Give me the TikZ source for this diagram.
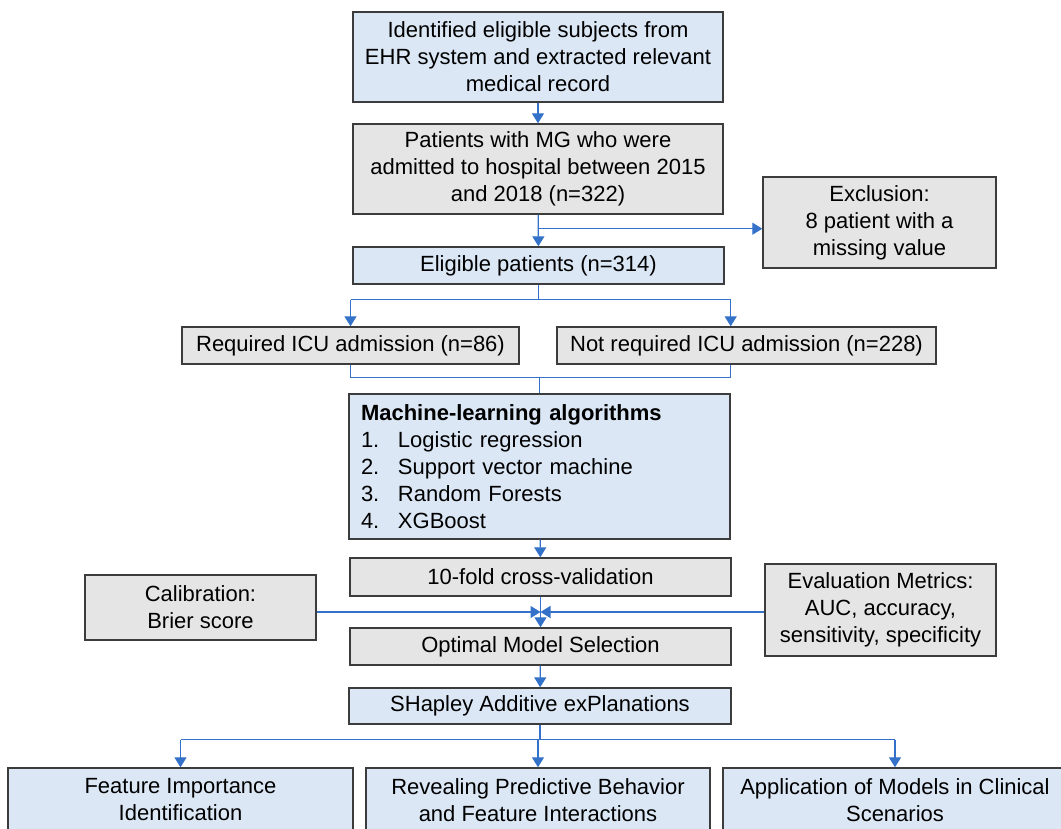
\documentclass[tikz,border=0pt]{standalone}
\usepackage{fontspec}
\setmainfont{Liberation Sans}
\usetikzlibrary{positioning,calc,arrows.meta}
\definecolor{boxblue}{RGB}{219,231,245}
\definecolor{boxgray}{RGB}{229,229,229}
\definecolor{boxline}{RGB}{60,60,60}
\definecolor{linkblue}{RGB}{52,114,202}
\tikzset{
  basebox/.style={draw=boxline,line width=1.4pt,inner sep=0pt,align=center,
    font=\fontsize{22}{27}\selectfont},
  bluebox/.style={basebox,fill=boxblue},
  graybox/.style={basebox,fill=boxgray},
  conn/.style={draw=linkblue,line width=1.3pt},
  arr/.style={conn,-{Triangle[length=10pt,width=12pt]}},
}
\begin{document}
\begin{tikzpicture}[x=1pt,y=-1pt]
 \useasboundingbox (0,0) rectangle (1061,829);
 %
 \node[bluebox,minimum width=370,minimum height=90] (ident) at (538,57)
   {Identified eligible subjects from\\EHR system and extracted relevant\\medical record};
 \node[graybox,minimum width=370,minimum height=90] (patients) at (538,169)
   {Patients with MG who were\\admitted to hospital between 2015\\and 2018 (n=322)};
 \node[graybox,minimum width=233,minimum height=91] (excl) at (879.5,222.5)
   {Exclusion:\\8 patient with a\\missing value};
 \node[bluebox,minimum width=371,minimum height=37] (eligible) at (538.5,265.5)
   {Eligible patients (n=314)};
 \node[graybox,minimum width=337,minimum height=37] (req) at (350.5,345.5)
   {Required ICU admission (n=86)};
 \node[graybox,minimum width=379,minimum height=37] (notreq) at (746.5,345.5)
   {Not required ICU admission (n=228)};
 \node[bluebox,minimum width=381,minimum height=145,align=left,text width=357,
   inner xsep=12pt] (ml) at (539.5,466.5)
   {\textbf{Machine-learning algorithms}\\
    \makebox[37pt][l]{1.}Logistic regression\\
    \makebox[37pt][l]{2.}Support vector machine\\
    \makebox[37pt][l]{3.}Random Forests\\
    \makebox[37pt][l]{4.}XGBoost};
 \node[graybox,minimum width=381,minimum height=38] (cv) at (540.5,577)
   {10-fold cross-validation};
 \node[graybox,minimum width=231,minimum height=65] (calib) at (200.5,607.5)
   {Calibration:\\Brier score};
 \node[graybox,minimum width=231,minimum height=92] (eval) at (880.5,610)
   {Evaluation Metrics:\\AUC, accuracy,\\sensitivity, specificity};
 \node[graybox,minimum width=381,minimum height=37] (optimal) at (540.5,646.5)
   {Optimal Model Selection};
 \node[bluebox,minimum width=382,minimum height=36] (shap) at (540,706)
   {SHapley Additive exPlanations};
 \node[bluebox,minimum width=345,minimum height=64] (feat) at (180.5,800)
   {Feature Importance\\Identification};
 \node[bluebox,minimum width=344,minimum height=64] (reveal) at (538,800)
   {Revealing Predictive Behavior\\and Feature Interactions};
 \node[bluebox,minimum width=344,minimum height=64] (app) at (895,800)
   {Application of Models in Clinical\\Scenarios};
 %
 \draw[arr] (ident) -- (patients);
 \draw[arr] (patients) -- (eligible);
 \draw[arr] (patients.south) ++(0,14) coordinate (exbr) -- (exbr -| excl.west);
 %
 \draw[conn] (eligible.south) -- ++(0,15) coordinate (split);
 \draw[conn] (req.north |- split) -- (split -| ml.east);
 \draw[arr] (req.north |- split) -- (req.north);
 \draw[arr] (split -| ml.east) -- (notreq.north -| ml.east);
 %
 \coordinate (merge) at ($(ml.north)+(0,-16)$);
 \draw[conn] (req.south) |- (merge) -| (notreq.south -| ml.east);
 \draw[conn] (merge) -- (ml.north);
 %
 \draw[arr] (ml) -- (cv);
 \draw[arr] (cv) -- (optimal);
 \coordinate (meet) at ($(cv.south)!0.5!(optimal.north)$);
 \draw[arr] (calib.east |- meet) -- (meet);
 \draw[arr] (eval.west |- meet) -- (meet);
 \draw[arr] (optimal) -- (shap);
 %
 \draw[conn] (shap.south) -- ++(0,15) coordinate (fan);
 \draw[conn] (fan -| feat.north) -- (fan -| app.north);
 \foreach \n in {feat,reveal,app}
   \draw[arr] (fan -| \n.north) -- (\n.north);
\end{tikzpicture}
\end{document}
